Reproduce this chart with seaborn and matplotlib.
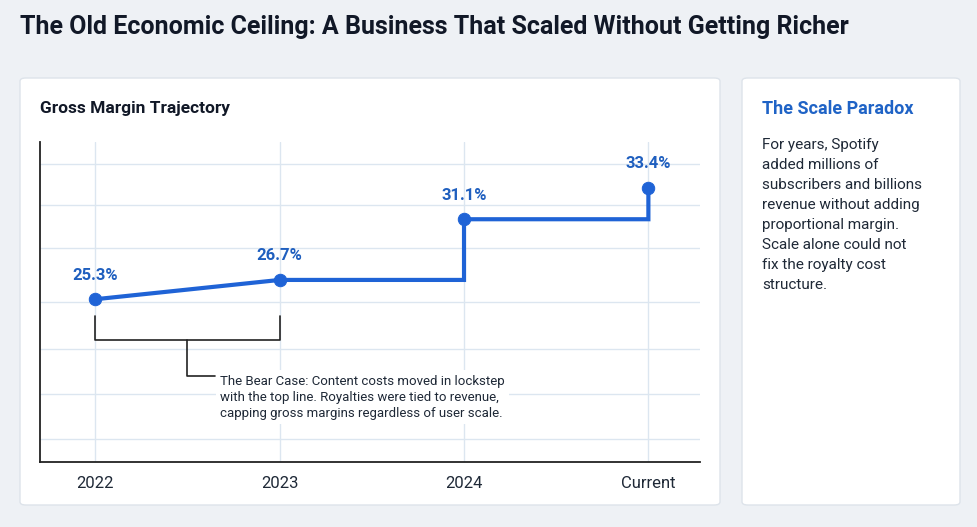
import matplotlib
matplotlib.use("Agg")
import matplotlib.pyplot as plt
import seaborn as sns
import pandas as pd
from matplotlib.patches import FancyBboxPatch

years = ["2022", "2023", "2024", "Current"]
margin = [25.3, 26.7, 31.1, 33.4]
labels = ["25.3%", "26.7%", "31.1%", "33.4%"]

sns.set_theme(style="white")
plt.rcParams["font.family"] = ["Roboto", "DejaVu Sans"]

W, H = 978, 527
fig = plt.figure(figsize=(9.78, 5.27), dpi=100)
fig.patch.set_facecolor("#eef1f5")

def fx(px): return px / W
def fy(py): return 1 - py / H

fig.text(fx(20), fy(27), "The Old Economic Ceiling: A Business That Scaled Without Getting Richer",
         fontsize=18, fontweight="bold", color="#111827", va="center")

for x0, x1 in [(20, 720), (742, 960)]:
    fig.patches.append(FancyBboxPatch((fx(x0), fy(505)), fx(x1 - x0), (505 - 78) / H,
                                      boxstyle="round,pad=0,rounding_size=0.006",
                                      transform=fig.transFigure, facecolor="white",
                                      edgecolor="#dde3ea", lw=1, zorder=-1))

fig.text(fx(40), fy(109), "Gross Margin Trajectory", fontsize=12.5, fontweight="bold",
         color="#111827", va="center")
fig.text(fx(762), fy(109), "The Scale Paradox", fontsize=13, fontweight="bold",
         color="#1f63c6", va="center")
fig.text(fx(762), fy(138), "For years, Spotify\nadded millions of\nsubscribers and billions\nrevenue without adding\nproportional margin.\nScale alone could not\nfix the royalty cost\nstructure.",
         fontsize=11, color="#1f2937", va="top", linespacing=1.55)

ax = fig.add_axes([fx(40), fy(462), fx(700 - 40), (462 - 142) / H])
ax.set_zorder(2)
ax.set_facecolor("white")
blue = "#1f63d6"

# stepped path: slope to 2023, then rise-at-year steps
px, py = [0, 1], [margin[0], margin[1]]
for i in range(2, len(margin)):
    px += [i, i]
    py += [margin[i - 1], margin[i]]
ax.plot(px, py, color=blue, lw=3, solid_joinstyle="miter", zorder=3)
df = pd.DataFrame({"x": range(len(years)), "y": margin})
sns.scatterplot(data=df, x="x", y="y", color=blue, s=80, edgecolor=blue, zorder=4, ax=ax, legend=False)
for i, (v, t) in enumerate(zip(margin, labels)):
    ax.annotate(t, (i, v), xytext=(0, 12), textcoords="offset points", ha="center",
                va="bottom", fontsize=12, fontweight="bold", color="#1f5fbf")

ax.set_xlim(-0.3, 3.28)
ax.set_ylim(13.5, 36.7)
ax.set_xticks(range(len(years)))
ax.set_xticklabels(years, fontsize=12, color="#1f2937")
ax.tick_params(axis="x", length=0, pad=10)
ax.set_yticks([15.2, 18.4, 21.7, 25.1, 29.0, 32.1, 35.1])
ax.set_yticklabels([])
ax.tick_params(axis="y", length=0)
ax.grid(True, color="#dce6f0", lw=1)
ax.set_xlabel(""); ax.set_ylabel("")
for s in ["top", "right"]:
    ax.spines[s].set_visible(False)
for s in ["left", "bottom"]:
    ax.spines[s].set_color("#222222"); ax.spines[s].set_linewidth(1.3)

# bracket annotation
bk = dict(color="#222222", lw=1.2, transform=fig.transFigure, zorder=5)
fig.add_artist(plt.Line2D([fx(95), fx(95), fx(280), fx(280)], [fy(316), fy(340), fy(340), fy(316)], **bk))
fig.add_artist(plt.Line2D([fx(187), fx(187), fx(215)], [fy(340), fy(376), fy(376)], **bk))
t = fig.text(fx(220), fy(397), "The Bear Case: Content costs moved in lockstep\nwith the top line. Royalties were tied to revenue,\ncapping gross margins regardless of user scale.",
             fontsize=9.5, color="#1f2937", va="center", linespacing=1.3,
             bbox=dict(facecolor="white", edgecolor="none", pad=3))
t.set_zorder(5)

fig.savefig("out.png", dpi=100, facecolor=fig.get_facecolor())
